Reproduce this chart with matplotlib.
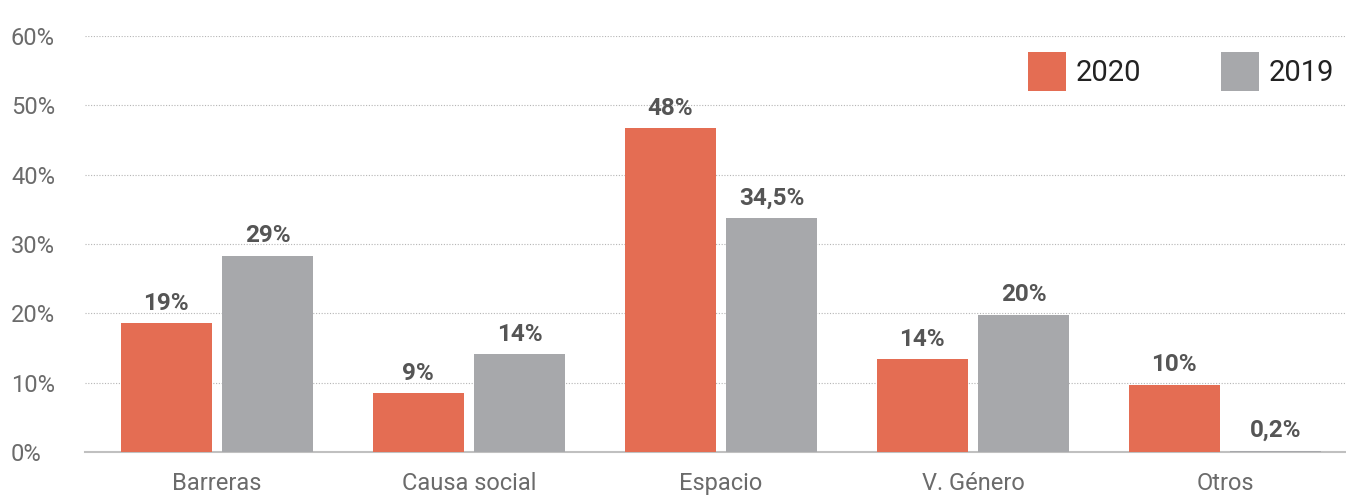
import matplotlib.pyplot as plt
import numpy as np

categorias = ["Barreras", "Causa social", "Espacio", "V. Género", "Otros"]
valores_2020 = [18.6, 8.5, 46.7, 13.4, 9.7]
valores_2019 = [28.3, 14.1, 33.8, 19.8, 0.2]
etiquetas_2020 = ["19%", "9%", "48%", "14%", "10%"]
etiquetas_2019 = ["29%", "14%", "34,5%", "20%", "0,2%"]

naranja = "#E46D53"
gris = "#A7A8AB"

plt.rcParams["font.family"] = ["Roboto", "DejaVu Sans"]

fig = plt.figure(figsize=(13.46, 5), dpi=100)
ax = fig.add_axes([85 / 1346, 48 / 500, 1 - 85 / 1346, 416 / 500])

x = np.arange(len(categorias))
w = 0.361
off = 0.202
b1 = ax.bar(x - off, valores_2020, w, color=naranja, label="2020", zorder=3)
b2 = ax.bar(x + off, valores_2019, w, color=gris, label="2019", zorder=3)

for bars, labels in [(b1, etiquetas_2020), (b2, etiquetas_2019)]:
    for rect, lab in zip(bars, labels):
        ax.annotate(lab, (rect.get_x() + rect.get_width() / 2, rect.get_height()),
                    xytext=(0, 6), textcoords="offset points", ha="center", va="bottom",
                    fontsize=17.5, fontweight="bold", color="#555555")

ax.set_xlim(-0.524, 4.48)
ax.set_ylim(0, 60)
ax.set_yticks(range(0, 61, 10))
ax.set_yticklabels([f"{v}%" for v in range(0, 61, 10)])
ax.set_xticks(x)
ax.set_xticklabels(categorias)
ax.tick_params(axis="y", length=0, pad=0, labelsize=17, labelcolor="#6b6b6b")
ax.tick_params(axis="x", length=0, pad=14.5, labelsize=17, labelcolor="#6b6b6b")
for lab in ax.get_yticklabels():
    lab.set_horizontalalignment("left")
    lab.set_x(-74 / 1261)
for s in ["top", "right", "left"]:
    ax.spines[s].set_visible(False)
ax.spines["bottom"].set_color("#c0c0c0")
ax.spines["bottom"].set_linewidth(1.5)
ax.yaxis.grid(True, linestyle=(0, (1, 1.5)), color="#b5b5b5", linewidth=0.8, zorder=0)
ax.set_axisbelow(True)

ax.legend(loc="upper right", bbox_to_anchor=(1.0, 0.99), ncol=2, frameon=False,
          fontsize=21, handlelength=1.3, handleheight=1.7, handletextpad=0.33,
          columnspacing=2.75, labelcolor="#222222", borderaxespad=0.0)

fig.savefig("out.png", dpi=100)
